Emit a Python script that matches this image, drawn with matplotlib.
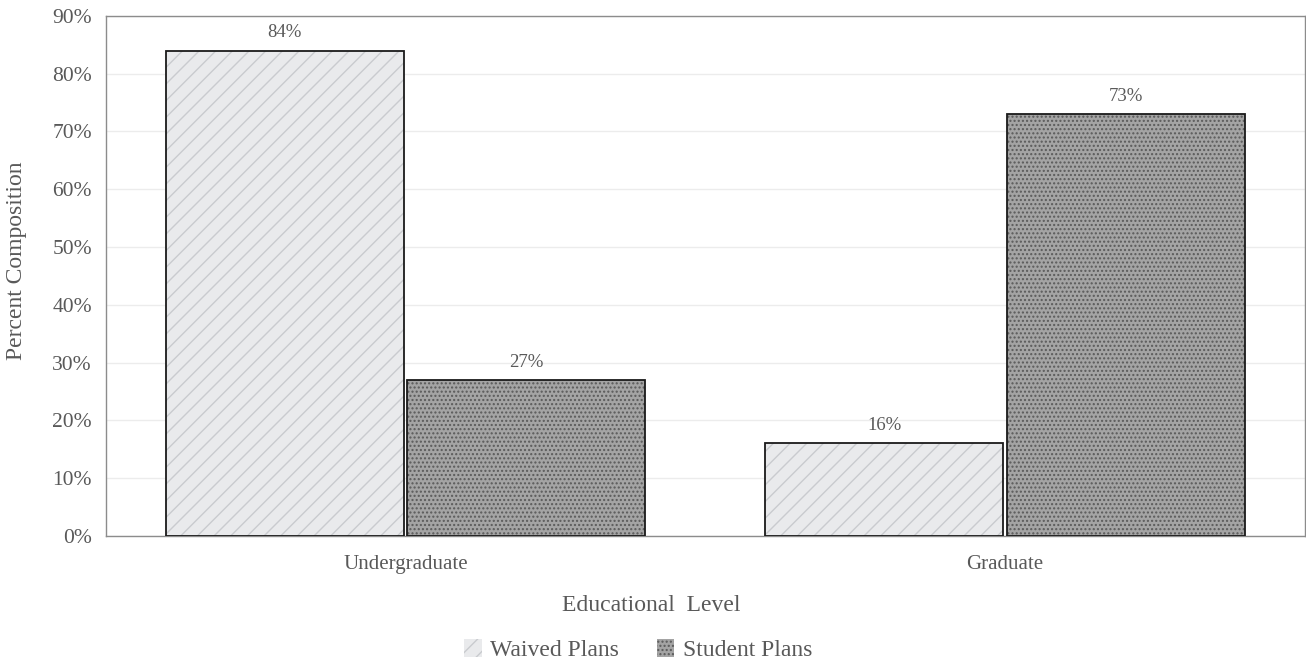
import matplotlib.pyplot as plt
import numpy as np

plt.rcParams['font.family'] = ['Liberation Serif', 'DejaVu Serif']
plt.rcParams['hatch.linewidth'] = 1.0

categories = ['Undergraduate', 'Graduate']
waived = [84, 16]
student = [27, 73]
series_names = ['Waived Plans', 'Student Plans']

txt = '#595959'
fig = plt.figure(figsize=(13.06, 6.6), dpi=100)
ax = fig.add_axes([0.081, 0.188, 0.918, 0.788])

x = np.arange(len(categories))
w = 0.397
off = 0.2017

# marble-ish fill
b1 = ax.bar(x - off, waived, w, color='#e9eaec', edgecolor='#c9cbcf', hatch='//', linewidth=0, zorder=2)
ax.bar(x - off, waived, w, fill=False, edgecolor='#1a1a1a', linewidth=1.3, zorder=3)
# granite-ish fill
b2 = ax.bar(x + off, student, w, color='#a4a4a4', edgecolor='#5a5a5a', hatch='....', linewidth=0, zorder=2)
ax.bar(x + off, student, w, fill=False, edgecolor='#1a1a1a', linewidth=1.3, zorder=3)

for xi, v in zip(x - off, waived):
    ax.text(xi, v + 1.6, f'{v}%', ha='center', va='bottom', fontsize=13.5, color=txt)
for xi, v in zip(x + off, student):
    ax.text(xi, v + 1.6, f'{v}%', ha='center', va='bottom', fontsize=13.5, color=txt)

ax.set_xlim(-0.5, 1.5)
ax.set_ylim(0, 90)
ax.set_yticks(range(0, 91, 10))
ax.set_yticklabels([f'{t}%' for t in range(0, 91, 10)], fontsize=15.5, color=txt)
ax.set_xticks(x)
ax.set_xticklabels(categories, fontsize=15, color=txt)
ax.tick_params(axis='y', length=0, pad=10)
ax.tick_params(axis='x', length=0, pad=14)
ax.yaxis.grid(True, color='#ececec', linewidth=1, zorder=0)
ax.set_axisbelow(True)
for s in ax.spines.values():
    s.set_color('#8c8c8c')
    s.set_linewidth(1)

ax.set_ylabel('Percent Composition', fontsize=17, color=txt)
ax.yaxis.set_label_coords(-0.066, 0.53)
ax.set_xlabel('Educational  Level', fontsize=17, color=txt)
ax.xaxis.set_label_coords(0.455, -0.113)

ax.legend([b1, b2], series_names, loc='center', bbox_to_anchor=(0.444, -0.22),
          ncol=2, frameon=False, fontsize=17, handlelength=0.75, handleheight=0.75,
          handletextpad=0.35, columnspacing=1.6, labelcolor=txt)

fig.savefig('out.png', dpi=100)
